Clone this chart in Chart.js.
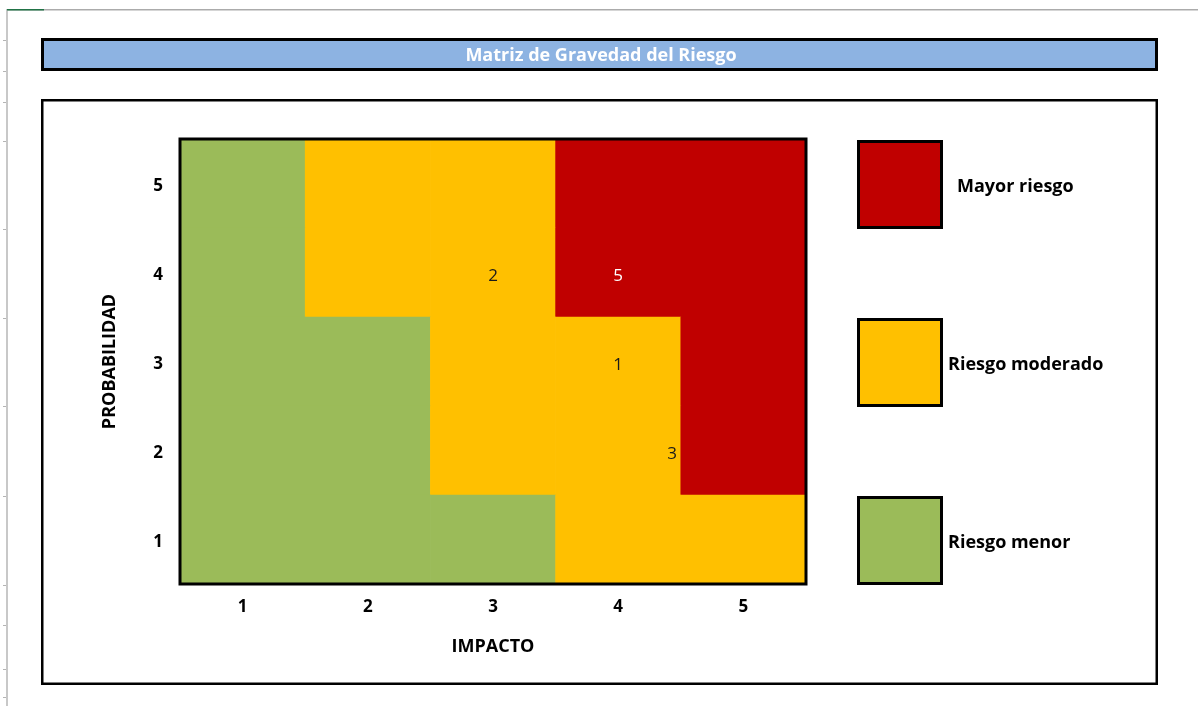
<!DOCTYPE html>
<html>
<head>
<meta charset="utf-8">
<script src="https://cdn.jsdelivr.net/npm/chart.js@4.4.1/dist/chart.umd.min.js"></script>
<style>
  html, body { margin: 0; padding: 0; background: #ffffff; }
  #wrap { position: relative; width: 1198px; height: 706px; overflow: hidden; }
  canvas { position: absolute; left: 0; top: 0; }
</style>
</head>
<body>
<div id="wrap"><canvas id="c" width="1198" height="706"></canvas></div>
<script>
// Axis categories
const impactLabels = ['1', '2', '3', '4', '5'];
const probabilityLabels = ['1', '2', '3', '4', '5'];

// Risk level of each cell, one list per probability row (1 = bottom), one entry per impact column.
// 0 = menor, 1 = moderado, 2 = mayor
const riskRow1 = [0, 0, 0, 1, 1];
const riskRow2 = [0, 0, 1, 1, 2];
const riskRow3 = [0, 0, 1, 1, 2];
const riskRow4 = [0, 1, 1, 2, 2];
const riskRow5 = [0, 1, 1, 2, 2];

const levelColors = ['#9BBB59', '#FFC000', '#C00000'];
const levelNames = ['Riesgo menor', 'Riesgo moderado', 'Mayor riesgo'];

// Identified risks placed on the matrix
const riskIds = ['2', '5', '1', '3'];
const riskImpact = [3, 4, 4, 4.43];
const riskProbability = [4, 4, 3, 2];

const titleText = 'Matriz de Gravedad del Riesgo';
const FONT = '"Open Sans", Lato, sans-serif';

const riskRows = [riskRow1, riskRow2, riskRow3, riskRow4, riskRow5];

// Each probability row is one stacked band of unit height
const cellDatasets = riskRows.map((row, i) => ({
  type: 'bar',
  label: 'Probabilidad ' + probabilityLabels[i],
  data: impactLabels.map(() => 1),
  backgroundColor: row.map(l => levelColors[l]),
  borderWidth: 0,
  barPercentage: 1,
  categoryPercentage: 1,
  xAxisID: 'x',
  yAxisID: 'y',
  stack: 'matrix'
}));

// Sheet frame, title bar, outer box, plot border, risk ids and legend
const framePlugin = {
  id: 'frame',
  beforeDraw(chart) {
    const ctx = chart.ctx;
    ctx.save();
    ctx.fillStyle = '#ffffff';
    ctx.fillRect(0, 0, chart.width, chart.height);
    // worksheet edges
    ctx.fillStyle = '#ABABAB';
    ctx.fillRect(7, 9, chart.width - 7, 1.5);
    ctx.fillStyle = '#C8C8C8';
    ctx.fillRect(6, 9, 2, chart.height - 9);
    ctx.fillStyle = '#217346';
    ctx.fillRect(7, 9, 37, 1.5);
    ctx.fillStyle = '#B4B4B4';
    [40, 71, 102, 141, 229, 318, 406, 496, 585, 625, 669, 697].forEach(y => ctx.fillRect(3, y, 3, 1));
    // title bar
    ctx.fillStyle = '#8DB3E2';
    ctx.fillRect(41, 38, 1117, 33);
    ctx.strokeStyle = '#000000';
    ctx.lineWidth = 3;
    ctx.strokeRect(42.5, 39.5, 1114, 30);
    ctx.fillStyle = '#ffffff';
    ctx.font = 'bold 18px ' + FONT;
    ctx.textAlign = 'center';
    ctx.textBaseline = 'middle';
    ctx.fillText(titleText, 601, 56);
    // outer box
    ctx.lineWidth = 2.5;
    ctx.strokeRect(42.25, 100.25, 1114.5, 583.5);
    ctx.restore();
  },
  afterDatasetsDraw(chart) {
    const ctx = chart.ctx;
    const a = chart.chartArea;
    const xv = chart.scales.xv, yv = chart.scales.yv;
    ctx.save();
    // plot border
    ctx.strokeStyle = '#000000';
    ctx.lineWidth = 3;
    ctx.strokeRect(a.left, a.top, a.right - a.left, a.bottom - a.top);
    // risk identifiers
    ctx.font = '17px ' + FONT;
    ctx.textAlign = 'center';
    ctx.textBaseline = 'middle';
    riskIds.forEach((id, i) => {
      const lvl = riskRows[riskProbability[i] - 1][Math.round(riskImpact[i]) - 1];
      ctx.fillStyle = lvl === 2 ? '#ffffff' : '#1a1a1a';
      ctx.fillText(id, xv.getPixelForValue(riskImpact[i]), yv.getPixelForValue(riskProbability[i]) + 4);
    });
    // legend: highest level at the top row, then every second row
    const sqLeft = a.right + 51, sqW = 86;
    [2, 1, 0].forEach((lvl, k) => {
      const p = 5 - 2 * k;
      const top = yv.getPixelForValue(p + 0.5) + 1;
      const bottom = yv.getPixelForValue(p - 0.5) + 1;
      ctx.fillStyle = levelColors[lvl];
      ctx.fillRect(sqLeft, top, sqW, bottom - top);
      ctx.lineWidth = 3;
      ctx.strokeStyle = '#000000';
      ctx.strokeRect(sqLeft + 1.5, top + 1.5, sqW - 3, bottom - top - 3);
      ctx.fillStyle = '#000000';
      ctx.font = 'bold 18px ' + FONT;
      ctx.textAlign = 'left';
      ctx.fillText(levelNames[lvl], sqLeft + sqW + (k === 0 ? 14 : 5), yv.getPixelForValue(p) + 3);
    });
    ctx.restore();
  }
};

const tickFont = { family: FONT, size: 17, weight: 'bold' };
const titleFont = { family: FONT, size: 18, weight: 'bold' };

new Chart(document.getElementById('c'), {
  type: 'bar',
  data: { labels: impactLabels, datasets: cellDatasets },
  options: {
    responsive: false,
    animation: false,
    events: [],
    layout: { padding: { left: 90, right: 392, top: 139, bottom: 22 } },
    plugins: { legend: { display: false }, tooltip: { enabled: false }, title: { display: false } },
    scales: {
      x: {
        type: 'category', labels: impactLabels, stacked: true, offset: true,
        grid: { display: false, drawTicks: false }, border: { display: false },
        ticks: { color: '#000000', font: tickFont, padding: 13 },
        title: { display: true, text: 'IMPACTO', color: '#000000', font: titleFont, padding: { top: 0, bottom: 26 } },
        afterFit(s) { s.height = 100; }
      },
      y: { type: 'linear', stacked: true, min: 0, max: 5, display: false },
      yLab: {
        type: 'category', position: 'left', labels: [...probabilityLabels].reverse(), offset: true,
        grid: { display: false, drawTicks: false }, border: { display: false },
        ticks: { color: '#000000', font: tickFont, padding: 17, labelOffset: 3 },
        title: { display: true, text: 'PROBABILIDAD', color: '#000000', font: titleFont, padding: { top: 9, bottom: 0 } },
        afterFit(s) { s.width = 90; }
      },
      xv: { type: 'linear', min: 0.5, max: 5.5, offset: false, display: false },
      yv: { type: 'linear', min: 0.5, max: 5.5, offset: false, display: false }
    }
  },
  plugins: [framePlugin]
});
</script>
</body>
</html>
